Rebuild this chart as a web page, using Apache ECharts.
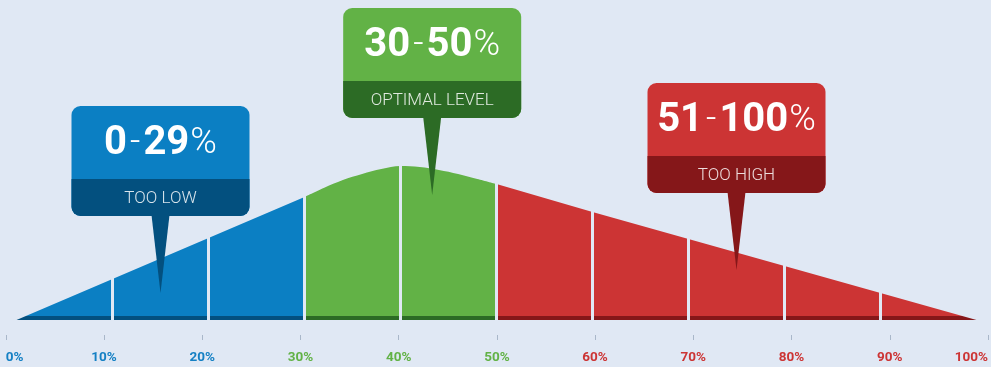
<!DOCTYPE html>
<html>
<head>
<meta charset="utf-8">
<script src="https://cdn.jsdelivr.net/npm/echarts/dist/echarts.min.js"></script>
<style>
  html, body { margin: 0; padding: 0; background: #e0e8f4; }
  #chart { width: 991px; height: 367px; }
</style>
</head>
<body>
<div id="chart"></div>
<script>
// ---- data ----
const lowX = [0, 10, 20, 30];
const lowY = [0, 41, 82, 123];
const optX = [30, 32, 34, 36, 38, 40, 42, 44, 46, 48, 50];
const optY = [123, 132, 140, 146, 151, 154, 153, 150, 146, 141, 136];
const highX = [50, 60, 70, 80, 90, 100];
const highY = [136, 108, 81, 54, 27, 0];
const sliceBounds = [10, 20, 30, 40, 50, 60, 70, 80, 90];
const tickValues = [0, 10, 20, 30, 40, 50, 60, 70, 80, 90, 100];
const tickLabels = ['0%', '10%', '20%', '30%', '40%', '50%', '60%', '70%', '80%', '90%', '100%'];
const calloutFrom = ['0', '30', '51'];
const calloutTo = ['29', '50', '100'];
const calloutTitles = ['TOO LOW', 'OPTIMAL LEVEL', 'TOO HIGH'];
const calloutTipX = [15, 43.3, 75];
const calloutTipY = [27, 125, 50];

// ---- styles ----
const BG = '#e0e8f4';
const LIGHT = ['#0b7fc3', '#62b246', '#cc3434'];
const DARK = ['#03507f', '#2c6b25', '#851719'];
const LABEL = ['#1580c4', '#62b246', '#cc3434'];
const BASE = 320;   // pixel y of the baseline
const STRIP = 4;    // dark strip height (px)

function zoneOf(v) { return v <= 20 ? 0 : (v <= 50 ? 1 : 2); }

function grad(i) {
  const f = (BASE - STRIP) / BASE;
  return new echarts.graphic.LinearGradient(0, 0, 0, BASE, [
    { offset: 0, color: LIGHT[i] },
    { offset: f, color: LIGHT[i] },
    { offset: f, color: DARK[i] },
    { offset: 1, color: DARK[i] }
  ], true);
}

function zip(xs, ys) { return xs.map((x, i) => [x, ys[i]]); }

function areaSeries(name, xs, ys, i, smooth, extra) {
  return Object.assign({
    name: name,
    type: 'line',
    xAxisIndex: 0, yAxisIndex: 0,
    data: zip(xs, ys),
    smooth: smooth,
    showSymbol: false,
    symbol: 'none',
    silent: true,
    lineStyle: { width: 0, opacity: 0 },
    areaStyle: { color: grad(i), opacity: 1 },
    z: 2
  }, extra || {});
}

const chart = echarts.init(document.getElementById('chart'), null, { renderer: 'canvas' });

chart.setOption({
  backgroundColor: BG,
  animation: false,
  grid: [
    { left: 16.5, right: 14.5, top: 120, bottom: 367 - BASE },
    { left: 5.75, right: 2.75, top: 300, bottom: 32 }
  ],
  xAxis: [
    { type: 'value', gridIndex: 0, min: 0, max: 100, show: false },
    {
      type: 'value', gridIndex: 1, min: 0, max: 100, interval: 10,
      axisLine: { show: false },
      splitLine: { show: false },
      axisTick: { show: true, length: 5, lineStyle: { color: '#a9b7c9', width: 1 } },
      axisLabel: {
        margin: 16,
        fontFamily: 'Roboto',
        fontWeight: 'bold',
        fontSize: 13.5,
        alignMinLabel: 'left',
        alignMaxLabel: 'right',
        color: function (v) { return LABEL[zoneOf(Number(v))]; },
        formatter: function (v) {
          const k = tickValues.indexOf(Math.round(v));
          return k >= 0 ? tickLabels[k] : '';
        }
      }
    }
  ],
  yAxis: [
    { type: 'value', gridIndex: 0, min: 0, max: 200, show: false },
    { type: 'value', gridIndex: 1, min: 0, max: 1, show: false }
  ],
  series: [
    areaSeries('low', lowX, lowY, 0, false),
    areaSeries('optimal', optX, optY, 1, 0.35),
    areaSeries('high', highX, highY, 2, false, {
      z: 3,
      markLine: {
        silent: true,
        symbol: ['none', 'none'],
        label: { show: false },
        lineStyle: { color: BG, width: 3, type: 'solid', opacity: 1 },
        data: sliceBounds.map(v => ({ xAxis: v }))
      }
    })
  ]
});

// ---- callouts anchored to data coordinates ----
const BOX_W = 178, BOX_H = 110, BAND_H = 37, PIN_L = 77, PIN_W = 18, R = 9;
const graphics = [];
for (let i = 0; i < calloutTitles.length; i++) {
  const p = chart.convertToPixel({ xAxisIndex: 0, yAxisIndex: 0 }, [calloutTipX[i], calloutTipY[i]]);
  const tx = p[0], ty = p[1];
  const boxBottom = ty - PIN_L;
  const boxTop = boxBottom - BOX_H;
  const left = tx - BOX_W / 2;
  graphics.push({
    type: 'group',
    z: 100,
    silent: true,
    children: [
      { type: 'polygon', shape: { points: [[tx - PIN_W / 2, boxBottom - 1], [tx + PIN_W / 2, boxBottom - 1], [tx, ty]] }, style: { fill: DARK[i] }, z: 100 },
      { type: 'rect', shape: { x: left, y: boxTop, width: BOX_W, height: BOX_H, r: R }, style: { fill: LIGHT[i] }, z: 101 },
      { type: 'rect', shape: { x: left, y: boxBottom - BAND_H, width: BOX_W, height: BAND_H, r: [0, 0, R, R] }, style: { fill: DARK[i] }, z: 102 },
      {
        type: 'text', z: 103,
        x: tx, y: boxTop + (BOX_H - BAND_H) / 2 + 1,
        style: {
          text: '{b|' + calloutFrom[i] + '}{d|-}{b|' + calloutTo[i] + '}{p|%}',
          align: 'center', verticalAlign: 'middle',
          rich: {
            b: { fontFamily: 'Roboto', fontWeight: 'bold', fontSize: 40, fill: '#ffffff', color: '#ffffff' },
            d: { fontFamily: 'Roboto', fontWeight: 300, fontSize: 36, fill: '#ffffff', color: '#ffffff', padding: [0, 3, 0, 3] },
            p: { fontFamily: 'Roboto', fontWeight: 300, fontSize: 36, fill: '#ffffff', color: '#ffffff', padding: [0, 0, 0, 1] }
          }
        }
      },
      {
        type: 'text', z: 103,
        x: tx, y: boxBottom - BAND_H / 2 + 1,
        style: {
          text: calloutTitles[i],
          align: 'center', verticalAlign: 'middle',
          fontFamily: 'Roboto', fontWeight: 300, fontSize: 17,
          fill: 'rgba(255,255,255,0.85)'
        }
      }
    ]
  });
}
chart.setOption({ graphic: graphics });
</script>
</body>
</html>
